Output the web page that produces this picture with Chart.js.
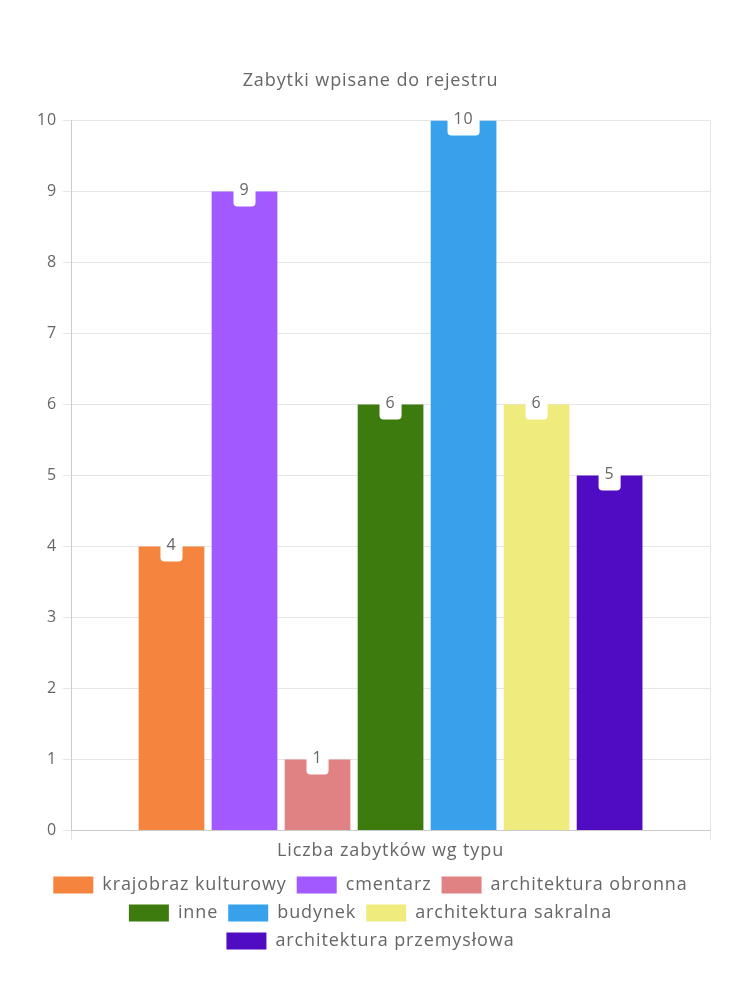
<!DOCTYPE html>
<html>
<head>
<meta charset="utf-8">
<script src="https://cdn.jsdelivr.net/npm/chart.js@4.4.0/dist/chart.umd.min.js"></script>
<style>
  body { margin: 0; background: #fff; }
  #wrap { width: 750px; height: 1000px; }
</style>
</head>
<body>
<div id="wrap"><canvas id="zabytkiChart"></canvas></div>
<script>
// Zabytki wpisane do rejestru - one group, one dataset per type
const typeNames = ['krajobraz kulturowy', 'cmentarz', 'architektura obronna', 'inne', 'budynek', 'architektura sakralna', 'architektura przemysłowa'];
const typeCounts = [4, 9, 1, 6, 10, 6, 5];
const typeColors = ['#F5843F', '#A259FF', '#E08283', '#3E7B0E', '#37A2EB', '#F0EB7D', '#500CC2'];
const yTicks = [0, 1, 2, 3, 4, 5, 6, 7, 8, 9, 10];

const FONT = "'Open Sans', sans-serif";
const TEXT = '#666';

// the original font is wider, so space the letters out a bit
const wideText = {
    id: 'wideText',
    beforeLayout(chart) { chart.ctx.letterSpacing = '0.9px'; },
    beforeDraw(chart) { chart.ctx.letterSpacing = '0.9px'; }
};

// simple value labels in a white rounded box, centered on the bar top
const valueLabels = {
    id: 'valueLabels',
    afterDatasetsDraw(chart) {
        const ctx = chart.ctx;
        ctx.save();
        ctx.font = '16px ' + FONT;
        ctx.textAlign = 'center';
        ctx.textBaseline = 'middle';
        chart.data.datasets.forEach((ds, i) => {
            const bar = chart.getDatasetMeta(i).data[0];
            if (!bar) return;
            const txt = String(ds.data[0]);
            const w = ctx.measureText(txt).width + 12;
            const h = 30;
            ctx.fillStyle = '#fff';
            ctx.beginPath();
            ctx.roundRect(bar.x - w / 2, bar.y - h / 2, w, h, 4);
            ctx.fill();
            ctx.fillStyle = TEXT;
            ctx.fillText(txt, bar.x, bar.y - 1);
        });
        ctx.restore();
    }
};

new Chart(document.getElementById('zabytkiChart'), {
    type: 'bar',
    data: {
        labels: [''],
        datasets: typeNames.map((name, i) => ({
            label: name,
            data: [typeCounts[i]],
            backgroundColor: typeColors[i],
            borderWidth: 0,
            categoryPercentage: 0.8,
            barPercentage: 0.9
        }))
    },
    options: {
        responsive: true,
        maintainAspectRatio: false,
        animation: false,
        layout: {
            padding: { top: 70, left: 31, right: 40, bottom: 40 }
        },
        plugins: {
            title: {
                display: true,
                text: 'Zabytki wpisane do rejestru',
                color: TEXT,
                font: { family: FONT, size: 18, weight: 'normal' },
                padding: { top: 0, bottom: 29 }
            },
            legend: {
                display: true,
                position: 'bottom',
                labels: {
                    color: TEXT,
                    font: { family: FONT, size: 18 },
                    boxWidth: 40,
                    boxHeight: 17,
                    padding: 10
                }
            },
            tooltip: { enabled: false }
        },
        scales: {
            x: {
                grid: { color: '#e5e5e5', drawTicks: true, tickLength: 10 },
                border: { color: '#ccc' },
                ticks: { display: false },
                title: {
                    display: true,
                    text: 'Liczba zabytków wg typu',
                    color: TEXT,
                    font: { family: FONT, size: 18 },
                    padding: { top: 0, bottom: 4 }
                }
            },
            y: {
                min: 0,
                max: 10,
                afterBuildTicks: axis => { axis.ticks = yTicks.map(v => ({ value: v })); },
                grid: { color: '#e5e5e5', tickLength: 8 },
                border: { color: '#ccc' },
                ticks: {
                    color: TEXT,
                    font: { family: FONT, size: 16 },
                    padding: 6
                }
            }
        }
    },
    plugins: [wideText, valueLabels]
});
</script>
</body>
</html>
